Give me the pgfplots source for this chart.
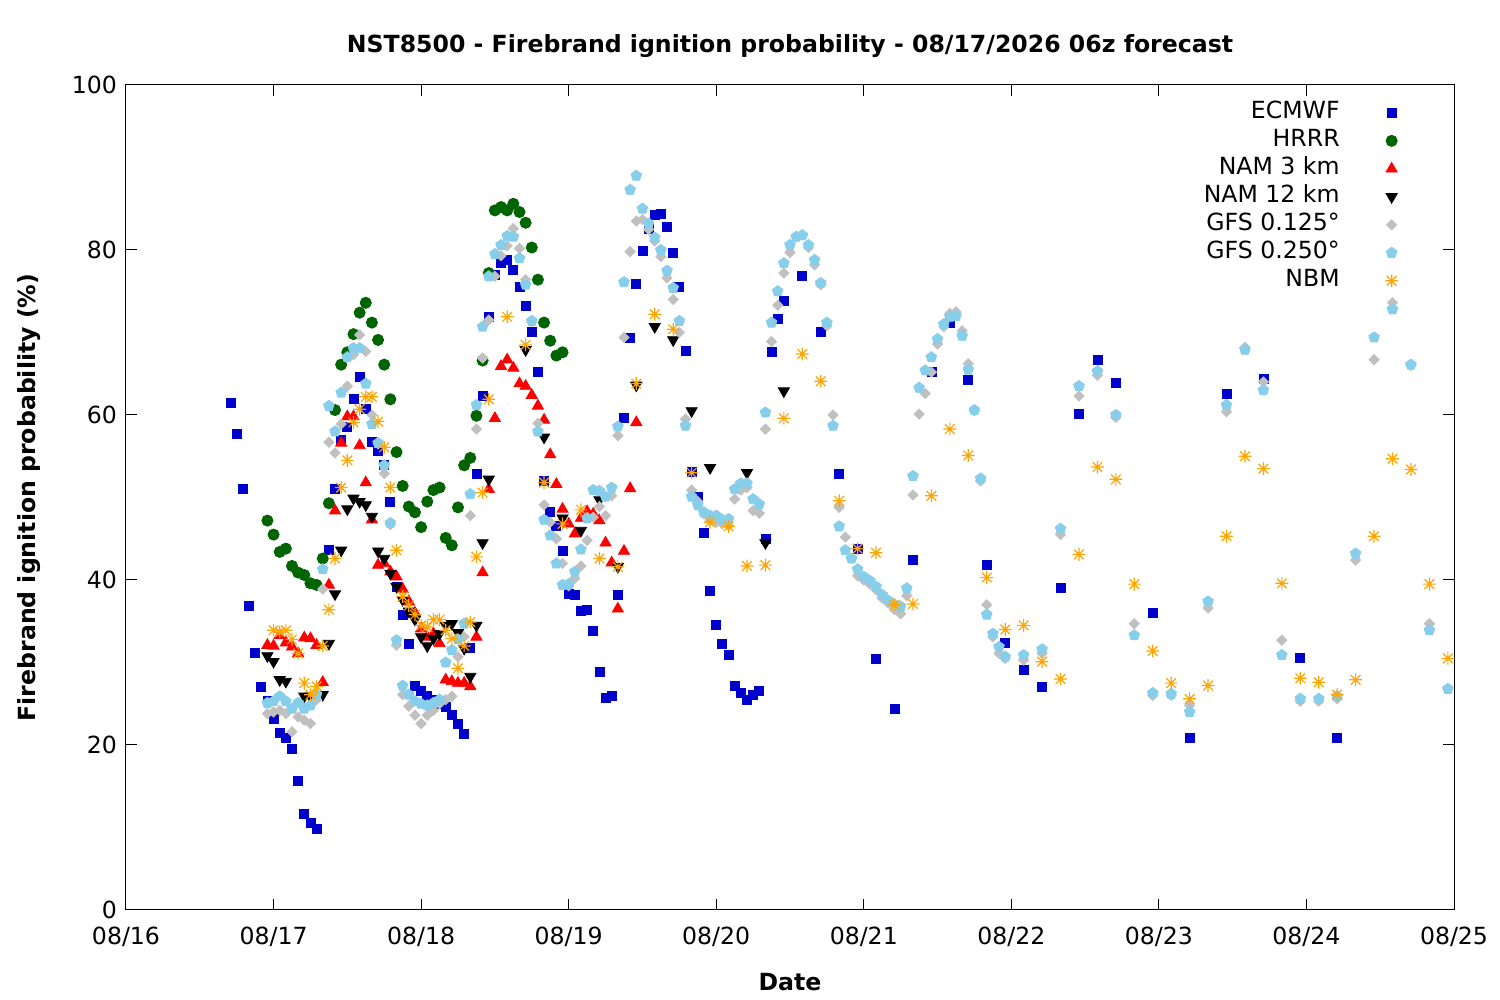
\documentclass[border=0pt]{standalone}
\usepackage{fontspec}
\setmainfont{DejaVu Sans}
\usepackage{pgfplots}
\usepackage{pgfplotstable}
\pgfplotsset{compat=1.18}
\newcommand{\fs}{\fontsize{11.8}{14}\selectfont}
\definecolor{ecblue}{HTML}{0000CC}
\definecolor{hrgreen}{HTML}{006400}
\definecolor{gfsgray}{HTML}{C0C0C0}
\definecolor{gfsblue}{HTML}{87CEEB}
\definecolor{nbmorange}{HTML}{FFA500}
\pgfdeclareplotmark{gpstar}{%
  \pgfpathmoveto{\pgfqpoint{-\pgfplotmarksize}{0pt}}\pgfpathlineto{\pgfqpoint{\pgfplotmarksize}{0pt}}%
  \pgfpathmoveto{\pgfqpoint{0pt}{-\pgfplotmarksize}}\pgfpathlineto{\pgfqpoint{0pt}{\pgfplotmarksize}}%
  \pgfpathmoveto{\pgfqpoint{-.75\pgfplotmarksize}{-.75\pgfplotmarksize}}\pgfpathlineto{\pgfqpoint{.75\pgfplotmarksize}{.75\pgfplotmarksize}}%
  \pgfpathmoveto{\pgfqpoint{-.75\pgfplotmarksize}{.75\pgfplotmarksize}}\pgfpathlineto{\pgfqpoint{.75\pgfplotmarksize}{-.75\pgfplotmarksize}}%
  \pgfusepathqstroke}

\pgfplotstableread{
h v
17 61.5
18 57.7
19 51.1
20 36.8
21 31.2
22 27.1
23 25.3
24 23.2
25 21.5
26 20.9
27 19.5
28 15.6
29 11.7
30 10.6
31 9.8
33 43.7
34 51.1
35 57.0
36 58.6
37 61.9
38 64.6
39 60.7
40 56.7
41 55.7
42 54.0
43 49.5
44 39.2
45 35.8
46 32.3
47 27.2
48 26.6
49 25.9
50 25.5
51 25.0
52 24.6
53 23.6
54 22.6
55 21.3
56 31.8
57 52.8
58 62.3
59 71.9
60 77.0
61 78.4
62 78.8
63 77.6
64 75.5
65 73.2
66 70.1
67 65.2
68 52.0
69 48.3
70 46.5
71 43.5
72 38.3
73 38.2
74 36.3
75 36.4
76 33.8
77 28.9
78 25.7
79 26.0
80 38.2
81 59.6
82 69.3
83 75.9
84 79.9
85 82.5
86 84.3
87 84.4
88 82.8
89 79.7
90 75.5
91 67.8
92 53.1
93 50.1
94 45.7
95 38.7
96 34.5
97 32.2
98 30.9
99 27.2
100 26.3
101 25.5
102 26.1
103 26.5
104 45.0
105 67.6
106 71.6
107 73.8
110 76.8
113 70.1
116 52.9
119 43.8
122 30.4
125 24.4
128 42.4
131 65.2
134 71.2
137 64.2
140 41.8
143 32.4
146 29.1
149 27.1
152 39.0
155 60.1
158 66.7
161 63.9
167 36.0
173 20.8
179 62.5
185 64.4
191 30.5
197 20.9
}\ecmwf

\pgfplotstableread{
h v
23 47.2
24 45.5
25 43.4
26 43.8
27 41.7
28 40.9
29 40.6
30 39.6
31 39.4
32 42.6
33 49.3
34 60.6
35 66.1
36 67.6
37 69.8
38 72.4
39 73.6
40 71.2
41 69.1
42 66.1
43 61.9
44 55.5
45 51.4
46 48.9
47 48.2
48 46.4
49 49.5
50 50.9
51 51.2
52 45.1
53 44.2
54 48.8
55 53.9
56 54.8
57 59.9
58 66.6
59 77.2
60 84.8
61 85.2
62 84.8
63 85.6
64 84.6
65 83.3
66 80.3
67 76.4
68 71.2
69 69.0
70 67.2
71 67.6
}\hrrr

\pgfplotstableread{
h v
23 32.1
24 32.0
25 33.3
26 32.4
27 31.9
28 31.1
29 33.0
30 32.9
31 32.1
32 27.6
33 39.4
34 48.4
35 56.6
36 59.8
37 59.8
38 56.3
39 51.8
40 47.3
41 41.8
42 42.0
43 41.0
44 40.4
45 38.9
46 37.4
47 36.0
48 34.1
49 33.1
50 33.5
51 32.3
52 27.9
53 27.7
54 27.5
55 27.5
56 27.1
57 33.1
58 40.9
59 51.0
60 59.6
61 65.9
62 66.7
63 65.7
64 63.8
65 63.5
66 62.4
67 61.1
68 59.4
69 55.2
70 51.6
71 48.6
72 46.8
73 45.6
74 47.5
75 48.3
76 48.0
77 47.2
78 44.5
79 42.1
80 36.5
81 43.5
82 51.1
83 59.1
}\namthree

\pgfplotstableread{
h v
23 30.8
24 30.1
25 27.9
26 27.7
29 25.9
30 25.9
31 26.0
32 26.1
33 32.3
34 38.3
35 43.6
36 48.6
37 49.9
38 49.5
39 49.1
40 47.7
41 43.5
42 42.6
43 40.8
44 39.2
45 37.6
46 36.2
47 35.2
48 33.1
49 32.0
50 32.9
51 33.5
52 34.5
53 34.7
54 33.6
55 31.7
56 28.3
57 34.5
58 44.5
59 52.2
65 67.9
68 57.3
71 47.5
74 46.0
77 49.7
80 41.6
83 63.6
86 70.7
89 69.1
92 60.5
95 53.6
101 53.0
104 44.5
107 62.9
}\namtwelve

\pgfplotstableread{
h v
23 23.8
24 24.0
25 24.2
26 23.8
27 21.6
28 23.4
29 23.0
30 22.6
31 25.5
32 38.9
33 56.7
34 55.4
35 58.9
36 63.5
37 67.3
38 69.7
39 67.7
40 60.0
41 56.5
42 52.9
43 46.7
44 32.1
45 26.1
46 24.7
47 23.6
48 22.6
49 23.6
50 24.2
51 25.0
52 25.5
53 25.9
54 30.7
55 33.1
56 47.8
57 58.3
58 66.9
59 71.5
60 76.8
61 79.3
62 80.5
63 82.6
64 80.2
65 76.4
66 71.3
67 59.0
68 49.1
69 47.0
70 45.0
71 42.0
72 39.3
73 40.2
74 41.7
75 44.8
76 47.6
77 48.9
78 47.8
79 50.2
80 57.5
81 69.4
82 79.8
83 83.5
84 83.7
85 82.5
86 81.1
87 79.2
88 76.6
89 74.0
90 70.0
91 59.5
92 50.9
93 49.5
94 48.0
95 47.2
96 47.0
97 46.8
98 46.6
99 49.8
100 50.9
101 51.2
102 48.4
103 48.1
104 58.3
105 68.9
106 73.3
107 77.2
108 79.7
109 81.6
110 81.8
111 80.3
112 78.2
113 75.8
114 70.8
115 60.0
116 48.8
117 45.2
118 42.6
119 40.5
120 40.0
121 39.5
122 38.8
123 37.8
124 37.2
125 36.4
126 35.9
127 38.1
128 50.3
129 60.1
130 62.6
131 65.2
132 68.6
133 70.7
134 72.3
135 72.5
136 70.2
137 66.2
138 60.5
139 52.0
140 37.0
141 33.1
142 31.1
143 30.5
146 30.3
149 31.1
152 45.5
155 62.3
158 64.8
161 59.7
164 34.7
167 26.0
170 26.0
173 24.8
176 36.6
179 60.4
182 68.2
185 64.0
188 32.7
191 25.3
194 25.3
197 25.6
200 42.4
203 66.7
206 73.6
209 66.0
212 34.7
215 26.8
}\gfsa

\pgfplotstableread{
h v
23 25.1
24 25.3
25 25.9
26 25.3
27 24.4
28 25.1
29 24.4
30 24.8
31 26.1
32 41.3
33 61.1
34 58.0
35 62.7
36 67.0
37 68.1
38 68.1
39 63.8
40 58.9
41 56.6
42 53.9
43 46.9
44 32.7
45 27.2
46 26.1
47 25.3
48 25.0
49 24.8
50 25.1
51 25.5
52 30.0
53 31.5
54 32.8
55 34.7
56 50.4
57 61.2
58 70.7
59 76.8
60 79.5
61 80.6
62 81.7
63 81.6
64 79.0
65 75.8
66 71.4
67 58.0
68 47.3
69 45.4
70 42.0
71 39.4
72 39.5
73 41.0
74 43.7
75 47.5
76 50.9
77 50.8
78 50.1
79 51.2
80 58.6
81 76.1
82 87.3
83 89.0
84 85.0
85 83.2
86 81.5
87 80.0
88 77.5
89 75.4
90 71.4
91 58.7
92 50.1
93 49.1
94 48.2
95 47.8
96 47.8
97 47.3
98 47.4
99 51.0
100 51.7
101 51.7
102 49.8
103 49.2
104 60.3
105 71.2
106 75.0
107 78.4
108 80.6
109 81.6
110 81.8
111 80.6
112 78.8
113 76.0
114 71.2
115 58.7
116 46.5
117 43.6
118 42.6
119 41.3
120 40.4
121 39.9
122 39.2
123 38.2
124 37.5
125 37.0
126 36.8
127 39.0
128 52.6
129 63.3
130 65.4
131 67.0
132 69.2
133 71.0
134 71.9
135 72.0
136 69.6
137 65.5
138 60.6
139 52.3
140 35.8
141 33.5
142 31.9
143 30.7
146 30.9
149 31.6
152 46.2
155 63.5
158 65.3
161 60.0
164 33.3
167 26.3
170 26.2
173 24.0
176 37.4
179 61.2
182 67.9
185 63.0
188 30.9
191 25.6
194 25.6
197 25.9
200 43.2
203 69.4
206 72.8
209 66.1
212 33.9
215 26.8
}\gfsb

\pgfplotstableread{
h v
24 33.9
25 33.7
26 33.9
27 32.8
28 31.1
29 27.5
30 26.1
31 27.1
32 32.0
33 36.4
34 42.6
35 51.2
36 54.5
37 59.1
38 60.7
39 62.2
40 62.2
41 59.2
42 56.1
43 51.2
44 43.6
45 38.0
46 36.9
47 35.8
48 34.5
49 34.3
50 35.2
51 35.2
52 33.9
53 32.9
54 29.3
55 32.0
56 34.9
57 42.8
58 50.6
59 61.9
62 71.9
65 68.5
68 51.8
71 46.8
74 48.5
77 42.6
80 41.6
83 63.8
86 72.2
89 70.4
92 53.0
95 47.0
98 46.5
101 41.7
104 41.8
107 59.6
110 67.4
113 64.1
116 49.6
119 43.8
122 43.3
125 37.0
128 37.1
131 50.2
134 58.3
137 55.1
140 40.3
143 34.0
146 34.5
149 30.1
152 28.0
155 43.1
158 53.7
161 52.2
164 39.5
167 31.4
170 27.5
173 25.6
176 27.2
179 45.3
182 55.0
185 53.5
188 39.6
191 28.1
194 27.6
197 26.1
200 27.9
203 45.3
206 54.7
209 53.4
212 39.5
215 30.5
}\nbm

\begin{document}
\begin{tikzpicture}
\begin{axis}[
  at={(0,0)}, anchor=south west,
  width=664pt, height=412.5pt, scale only axis,
  xmin=0, xmax=216, ymin=0, ymax=100,
  xtick={0,24,...,216},
  xticklabels={08/16,08/17,08/18,08/19,08/20,08/21,08/22,08/23,08/24,08/25},
  ytick={0,20,...,100},
  tick align=inside, xtick pos=both, ytick pos=both,
  major tick length=5.5pt,
  axis line style={line width=0.5pt},
  every tick/.style={black, line width=0.5pt},
  /pgf/number format/assume math mode=true,
  tick label style={font=\fs},
  xticklabel style={yshift=-5pt},
  yticklabel style={xshift=-1pt},
  title={NST8500 - Firebrand ignition probability - 08/17/2026 06z forecast},
  title style={font=\bfseries\fs, yshift=4pt},
  xlabel={Date}, ylabel={Firebrand ignition probability (\%)},
  label style={font=\bfseries\fs},
  xlabel style={yshift=-6.5pt},
  ylabel style={yshift=9pt},
  legend style={draw=none, fill=none, font=\fs, inner sep=0pt,
    at={(0.9669,0.9837)}, anchor=north east, row sep=0pt, column sep=15pt,
    nodes={inner xsep=2pt, inner ysep=1pt, text height=9pt, text depth=3pt}},
  legend cell align=right,
  legend plot pos=right,
  legend image code/.code={\path[draw=none, fill=none] (0pt,-6pt) rectangle (18pt,6pt); \draw[#1] plot[only marks] coordinates {(9pt,0pt)};},
]
\addplot[only marks, mark=square*, mark size=2.25pt, color=ecblue] table[x=h,y=v] {\ecmwf};
\addlegendentry{ECMWF}
\addplot[only marks, mark=*, mark size=2.8pt, color=hrgreen] table[x=h,y=v] {\hrrr};
\addlegendentry{HRRR}
\addplot[only marks, mark=triangle*, mark size=3.2pt, color=red] table[x=h,y=v] {\namthree};
\addlegendentry{NAM 3 km}
\addplot[only marks, mark=triangle*, mark size=3.2pt, color=black, mark options={rotate=180}] table[x=h,y=v] {\namtwelve};
\addlegendentry{NAM 12 km}
\addplot[only marks, mark=square*, mark size=1.8pt, color=gfsgray, mark options={rotate=45}] table[x=h,y=v] {\gfsa};
\addlegendentry{GFS 0.125°}
\addplot[only marks, mark=pentagon*, mark size=2.8pt, color=gfsblue] table[x=h,y=v] {\gfsb};
\addlegendentry{GFS 0.250°}
\addplot[only marks, mark=gpstar, mark size=3.2pt, color=nbmorange, line width=0.6pt] table[x=h,y=v] {\nbm};
\addlegendentry{NBM}
\end{axis}
\pgfresetboundingbox
\path[use as bounding box] (-63pt,-45pt) rectangle (687pt,455pt);
\end{tikzpicture}
\end{document}
